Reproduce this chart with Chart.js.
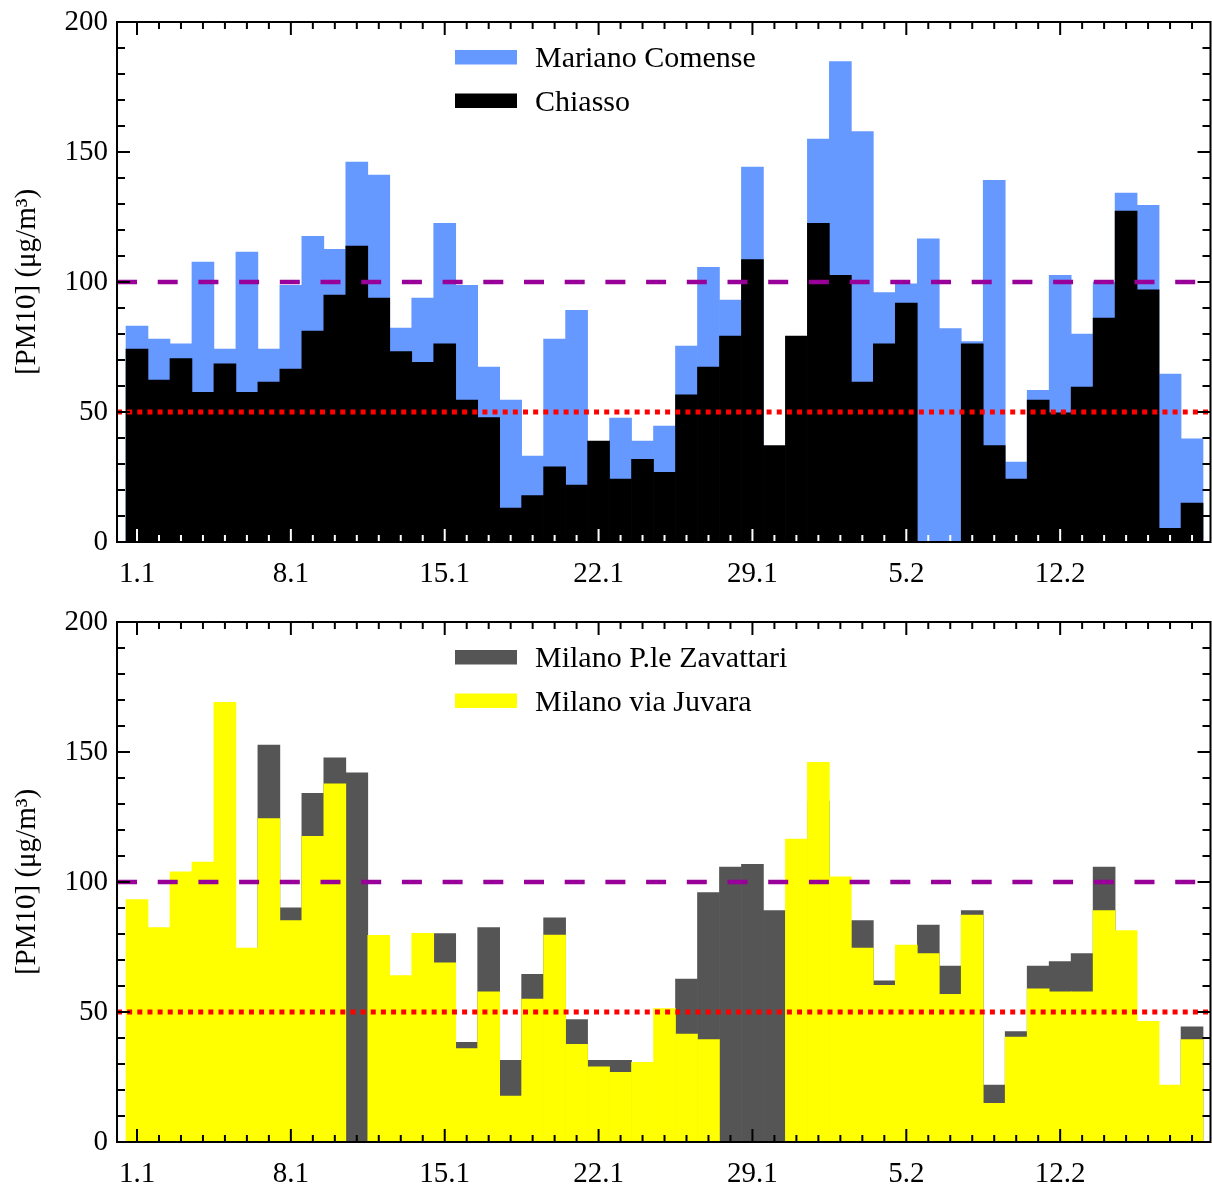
<!DOCTYPE html>
<html>
<head>
<meta charset="utf-8">
<script src="https://cdn.jsdelivr.net/npm/chart.js@4.4.1/dist/chart.umd.min.js"></script>
<style>
  html, body { margin: 0; padding: 0; background: #ffffff; }
  canvas { display: block; }
</style>
</head>
<body>
<canvas id="top" width="1212" height="600"></canvas>
<canvas id="bottom" width="1212" height="584"></canvas>
<script>
// ---- Data ----
const dates = ['1.1','2.1','3.1','4.1','5.1','6.1','7.1','8.1','9.1','10.1','11.1','12.1','13.1','14.1','15.1','16.1','17.1','18.1','19.1','20.1','21.1','22.1','23.1','24.1','25.1','26.1','27.1','28.1','29.1','30.1','31.1','1.2','2.2','3.2','4.2','5.2','6.2','7.2','8.2','9.2','10.2','11.2','12.2','13.2','14.2','15.2','16.2','17.2','18.2'];
const tickDates = ['1.1','8.1','15.1','22.1','29.1','5.2','12.2'];

const marianoComense = [83.0,78.0,76.2,107.7,74.2,111.5,74.2,98.7,117.6,112.6,146.1,141.1,82.3,93.8,122.6,98.7,67.3,54.6,33.0,78.0,89.1,null,47.7,38.8,44.6,75.4,105.6,93.0,144.2,null,null,155.0,184.8,157.9,95.9,99.3,116.6,82.1,77.1,139.1,30.7,58.3,102.6,80.0,100.0,134.2,129.5,64.6,39.7];
const chiasso = [74.2,62.3,70.5,57.6,68.5,57.6,61.5,66.5,81.1,95.0,113.8,93.8,73.2,69.1,76.2,54.6,47.9,13.0,17.9,28.9,21.9,38.8,24.2,31.8,26.8,56.6,67.3,79.2,108.6,37.1,79.2,122.6,102.6,61.5,76.2,91.9,null,null,76.2,37.1,24.2,54.6,49.7,59.6,86.1,127.3,97.0,5.3,15.0];
const milanoZavattari = [null,null,null,null,null,null,152.7,90.1,134.1,147.8,142.0,null,null,null,80.2,38.3,82.5,31.4,64.5,86.2,47.1,31.4,31.4,null,null,62.7,95.9,105.7,106.8,89.0,null,131.0,null,85.2,62.0,null,83.4,67.7,89.0,21.9,42.5,67.7,69.4,72.5,105.7,null,null,null,44.3];
const milanoJuvara = [93.2,82.5,103.9,107.7,169.1,74.6,124.4,85.2,117.6,137.8,null,79.5,64.0,80.3,68.9,35.9,57.8,17.7,55.0,79.6,37.6,28.9,26.8,30.6,51.3,41.5,39.4,null,null,null,116.5,146.0,102.0,74.6,60.3,75.7,72.5,56.8,87.3,14.9,40.4,58.9,57.8,57.8,89.0,81.3,46.4,21.9,39.4];

const dailyLimit = 50;      // red dotted
const alertLevel = 100;     // purple dashed
const yTitle = '[PM10] (\u03BCg/m\u00B3)';

// ---- Helpers ----
const X_MIN = 0.09, X_MAX = 49.84;
const FONT = '"Liberation Serif", "Times New Roman", serif';
Chart.defaults.font.family = FONT;
Chart.defaults.color = '#000';

function toPoints(arr) { return arr.map((v, i) => ({ x: i + 1, y: v })); }
function hline(v) { return [{ x: X_MIN, y: v }, { x: X_MAX, y: v }]; }

function framePlugin(legend, bottomTickColor) {
  return {
    id: 'frameTicksLegend',
    afterDatasetsDraw(chart) {
      const { ctx, chartArea: a, scales: { x, y } } = chart;
      ctx.save();
      ctx.lineWidth = 2;
      ctx.lineCap = 'butt';
      const seg = (x1, y1, x2, y2, c) => { ctx.strokeStyle = c; ctx.beginPath(); ctx.moveTo(x1, y1); ctx.lineTo(x2, y2); ctx.stroke(); };
      for (let v = 0; v <= 200; v += 10) {
        const py = y.getPixelForValue(v);
        const len = v % 50 === 0 ? 13 : 8;
        seg(a.left, py, a.left + len, py, '#000');
        seg(a.right, py, a.right - len, py, '#000');
      }
      dates.forEach((d, i) => {
        const px = x.getPixelForValue(i + 1);
        const len = tickDates.includes(d) ? 13 : 7;
        seg(px, a.top, px, a.top + len, '#000');
        seg(px, a.bottom, px, a.bottom - len, bottomTickColor);
      });
      ctx.strokeStyle = '#000';
      ctx.strokeRect(a.left, a.top, a.right - a.left, a.bottom - a.top);
      // legend
      ctx.font = '30px ' + FONT;
      ctx.textBaseline = 'alphabetic';
      ctx.textAlign = 'left';
      legend.forEach((item, k) => {
        const ry = a.top + 28 + k * 43.5;
        ctx.fillStyle = item.color;
        ctx.fillRect(a.left + 338, ry, 62, 14.5);
        ctx.fillStyle = '#000';
        ctx.fillText(item.label, a.left + 418, ry + 17);
      });
      ctx.restore();
    }
  };
}

function makeChart(id, seriesTop, seriesBack, axisHeight, bottomTickColor) {
  return new Chart(document.getElementById(id), {
    data: {
      datasets: [
        { type: 'line', label: 'alert', data: hline(alertLevel), borderColor: '#990099', borderWidth: 4.5, borderDash: [20, 20.7], pointRadius: 0, order: 0 },
        { type: 'line', label: 'limit', data: hline(dailyLimit), borderColor: '#ff0000', borderWidth: 5, borderDash: [5, 5.15], pointRadius: 0, order: 0 },
        { type: 'bar', label: seriesTop.label, data: toPoints(seriesTop.values), backgroundColor: seriesTop.color, borderWidth: 0, grouped: false, barPercentage: 1, categoryPercentage: 1, order: 1 },
        { type: 'bar', label: seriesBack.label, data: toPoints(seriesBack.values), backgroundColor: seriesBack.color, borderWidth: 0, grouped: false, barPercentage: 1, categoryPercentage: 1, order: 2 }
      ]
    },
    options: {
      responsive: false,
      animation: false,
      devicePixelRatio: 1,
      events: [],
      layout: { autoPadding: false, padding: { top: 22, right: 1.5, bottom: 0, left: 0 } },
      plugins: { legend: { display: false }, tooltip: { enabled: false } },
      scales: {
        x: {
          type: 'linear', min: X_MIN, max: X_MAX, offset: false,
          grid: { display: false, drawTicks: false }, border: { display: false },
          afterBuildTicks: (s) => { s.ticks = tickDates.map(d => ({ value: dates.indexOf(d) + 1 })); },
          afterFit: (s) => { s.height = axisHeight; s.paddingLeft = 0; s.paddingRight = 0; },
          ticks: { autoSkip: false, maxRotation: 0, padding: 15, font: { size: 29 }, color: '#000',
                   callback: (v) => dates[Math.round(v) - 1] }
        },
        y: {
          type: 'linear', min: 0, max: 200,
          grid: { display: false, drawTicks: false }, border: { display: false },
          afterFit: (s) => { s.width = 117; s.paddingTop = 0; s.paddingBottom = 0; },
          ticks: { stepSize: 50, padding: 9, font: { size: 29 }, color: '#000' },
          title: { display: true, text: yTitle, font: { size: 29 }, color: '#000', padding: { top: 10, bottom: 0 } }
        }
      }
    },
    plugins: [framePlugin([seriesBack, seriesTop], bottomTickColor)]
  });
}

makeChart('top',
  { label: 'Chiasso', values: chiasso, color: '#000000' },
  { label: 'Mariano Comense', values: marianoComense, color: '#6699ff' },
  58, '#ffffff');
makeChart('bottom',
  { label: 'Milano via Juvara', values: milanoJuvara, color: '#ffff00' },
  { label: 'Milano P.le Zavattari', values: milanoZavattari, color: '#555555' },
  42, '#000000');
</script>
</body>
</html>
